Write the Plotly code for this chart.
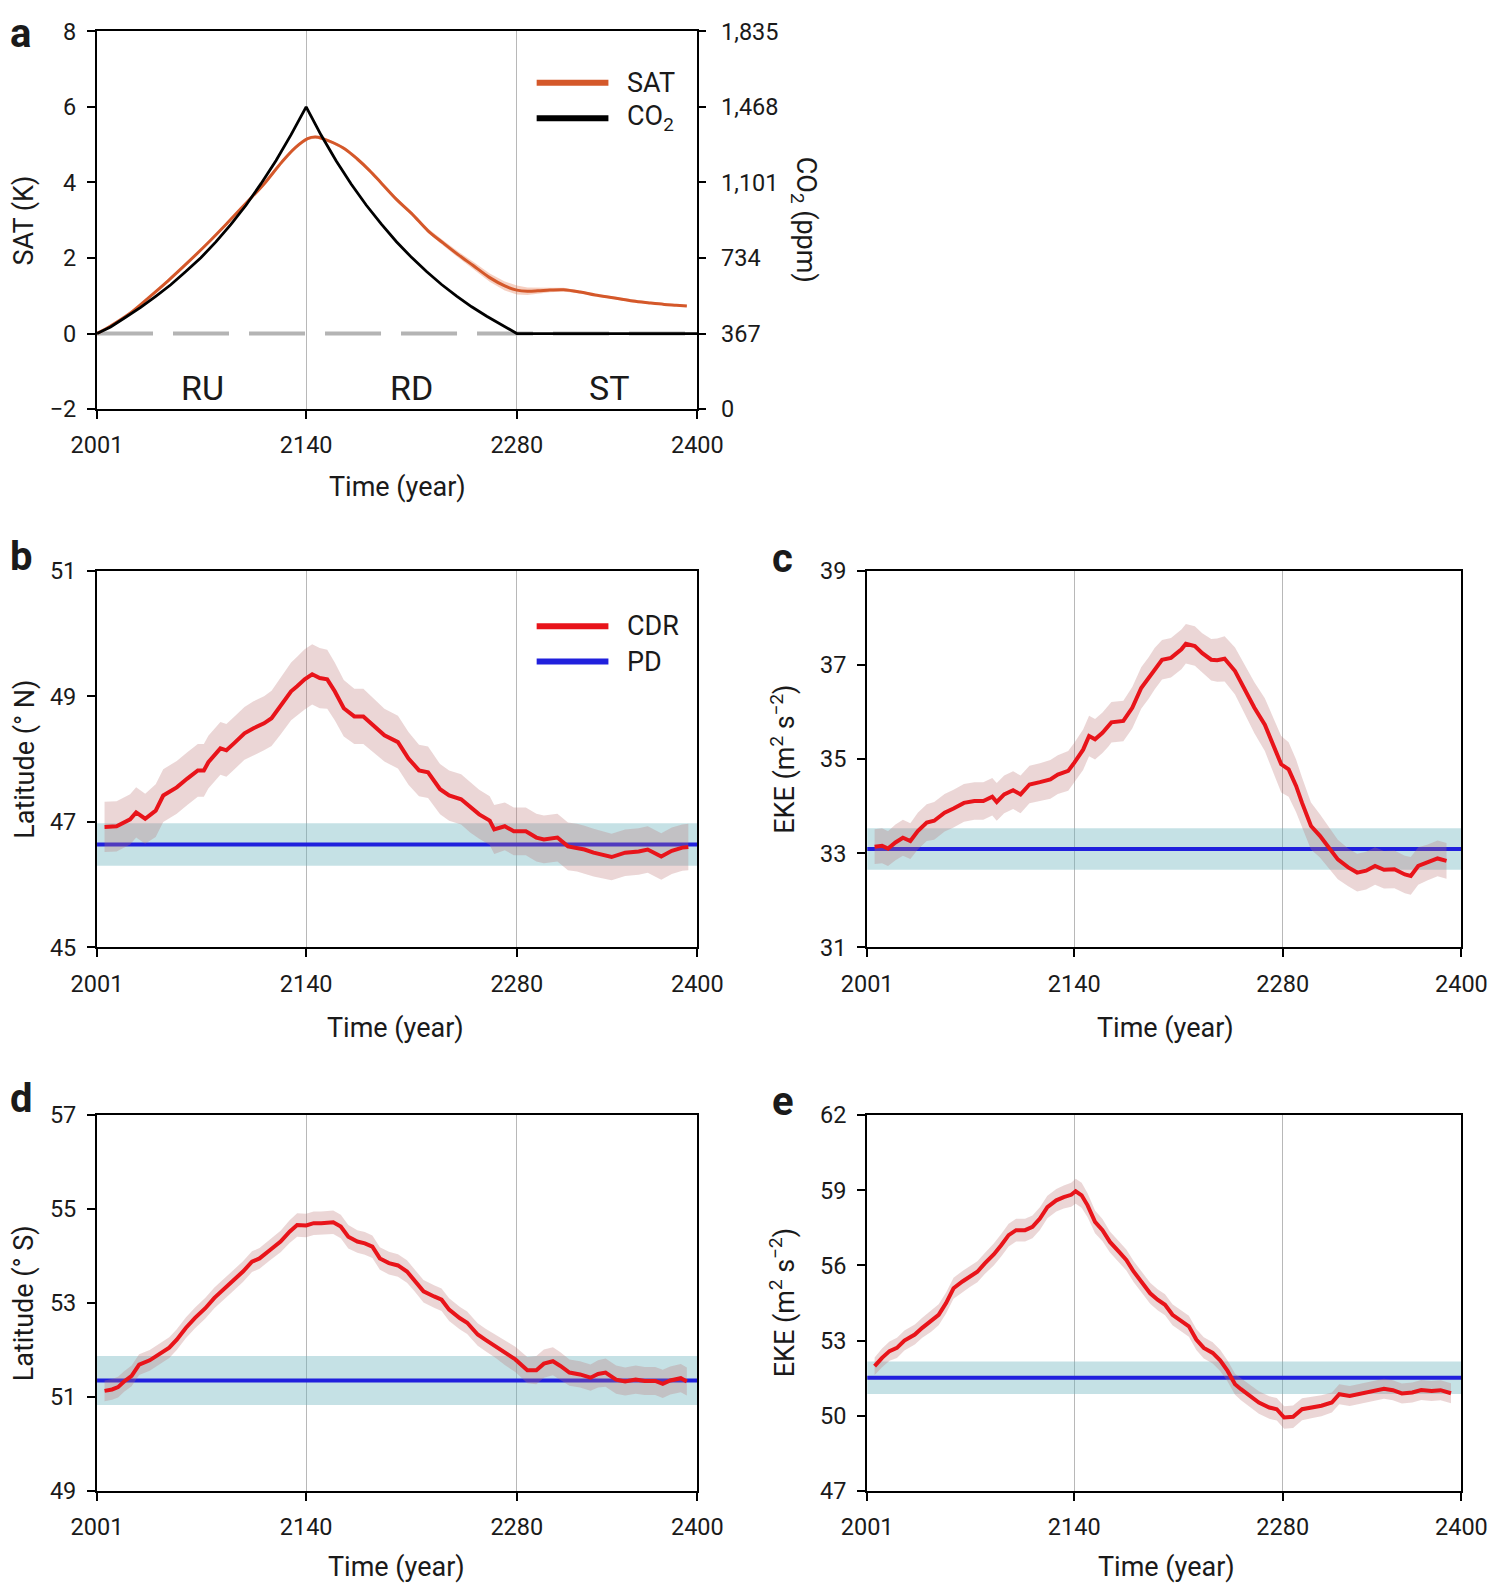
import numpy as np
import plotly.graph_objects as go

# ---- panel a: CO2 forcing and surface air temperature ----
co2_years = [2001, 2010, 2020, 2030, 2040, 2050, 2060, 2070, 2080, 2090, 2100, 2110, 2120, 2130, 2140,
             2150, 2160, 2170, 2180, 2190, 2200, 2210, 2220, 2230, 2240, 2250, 2260, 2270, 2280, 2400]
co2_ppm = [367, 399, 446, 494, 548, 604, 668, 735, 812, 897, 990, 1095, 1208, 1333, 1468,
           1330, 1205, 1092, 990, 898, 813, 737, 668, 605, 549, 497, 451, 407, 367, 367]

sat_years = [2001, 2010, 2022, 2035, 2048, 2061, 2074, 2087, 2100, 2112, 2124, 2133, 2141, 2146,
             2151, 2158, 2166, 2174, 2182, 2190, 2200, 2210, 2221, 2231, 2241, 2251, 2262, 2272,
             2280, 2287, 2294, 2302, 2311, 2322, 2332, 2345, 2357, 2368, 2378, 2386, 2393]
sat_k = [0.0, 0.20, 0.51, 0.94, 1.39, 1.87, 2.37, 2.90, 3.45, 3.96, 4.55, 4.93, 5.16, 5.20,
         5.16, 5.05, 4.88, 4.62, 4.32, 3.98, 3.55, 3.18, 2.72, 2.40, 2.09, 1.80, 1.48, 1.26,
         1.15, 1.12, 1.13, 1.15, 1.16, 1.10, 1.02, 0.94, 0.86, 0.81, 0.77, 0.75, 0.73]
sat_spread = [0.0, 0.02, 0.02, 0.02, 0.03, 0.03, 0.03, 0.03, 0.03, 0.03, 0.03, 0.04, 0.04, 0.04,
              0.04, 0.04, 0.04, 0.04, 0.04, 0.04, 0.05, 0.05, 0.06, 0.07, 0.08, 0.10, 0.11, 0.12,
              0.12, 0.10, 0.08, 0.06, 0.05, 0.04, 0.03, 0.03, 0.03, 0.03, 0.03, 0.03, 0.03]

ref_years = [2001, 2400]
sat_zero = [0, 0]
co2_ticks = [0, 367, 734, 1101, 1468, 1835]
co2_ticktext = ["0", "367", "734", "1,101", "1,468", "1,835"]
phase_labels = ["RU", "RD", "ST"]
phase_years = [2071, 2210, 2341]

year_ticks = [2001, 2140, 2280, 2400]

# ---- panel b: jet latitude, Northern Hemisphere ----
b_years = [2006, 2014, 2023, 2027, 2033, 2040, 2045, 2054, 2061, 2068, 2072, 2075, 2083, 2087, 2092,
           2099, 2105, 2112, 2117, 2123, 2130, 2134, 2139, 2144, 2149, 2154, 2159, 2165, 2172, 2178,
           2183, 2192, 2201, 2208, 2215, 2221, 2229, 2235, 2243, 2249, 2255, 2262, 2265, 2272, 2278,
           2286, 2293, 2298, 2307, 2314, 2320, 2325, 2331, 2343, 2352, 2361, 2367, 2376, 2383, 2390, 2394]
b_cdr = [46.92, 46.93, 47.04, 47.15, 47.05, 47.18, 47.42, 47.55, 47.69, 47.82, 47.82, 47.95, 48.17, 48.14, 48.25,
         48.41, 48.49, 48.57, 48.65, 48.84, 49.08, 49.16, 49.27, 49.35, 49.29, 49.27, 49.08, 48.81, 48.68, 48.68,
         48.57, 48.38, 48.27, 48.01, 47.82, 47.79, 47.52, 47.42, 47.36, 47.23, 47.12, 47.02, 46.88, 46.93, 46.85,
         46.85, 46.75, 46.72, 46.75, 46.61, 46.59, 46.56, 46.51, 46.44, 46.51, 46.53, 46.56, 46.45, 46.54, 46.59, 46.60]
b_spread = [0.40, 0.40, 0.40, 0.40, 0.40, 0.42, 0.42, 0.42, 0.42, 0.42, 0.42, 0.42, 0.42, 0.42, 0.42,
            0.42, 0.43, 0.43, 0.44, 0.45, 0.46, 0.47, 0.48, 0.48, 0.48, 0.47, 0.46, 0.45, 0.44, 0.44,
            0.43, 0.42, 0.42, 0.42, 0.41, 0.41, 0.40, 0.40, 0.40, 0.40, 0.39, 0.39, 0.39, 0.38, 0.38,
            0.38, 0.38, 0.38, 0.38, 0.38, 0.38, 0.38, 0.38, 0.37, 0.37, 0.37, 0.37, 0.37, 0.37, 0.37, 0.37]
b_pd, b_pd_spread = 46.64, 0.34

# ---- panel c: EKE, Northern Hemisphere ----
c_years = [2006, 2011, 2015, 2020, 2025, 2030, 2035, 2041, 2046, 2053, 2059, 2066, 2073, 2079, 2085,
           2088, 2093, 2099, 2104, 2110, 2117, 2124, 2129, 2136, 2140, 2146, 2150, 2154, 2159, 2163,
           2165, 2173, 2179, 2185, 2190, 2194, 2199, 2205, 2212, 2215, 2221, 2226, 2232, 2236, 2241,
           2248, 2254, 2261, 2268, 2273, 2279, 2284, 2289, 2293, 2299, 2305, 2311, 2317, 2324, 2330,
           2336, 2342, 2348, 2355, 2362, 2366, 2371, 2377, 2384, 2390]
c_cdr = [33.14, 33.16, 33.10, 33.23, 33.33, 33.26, 33.47, 33.65, 33.69, 33.86, 33.95, 34.07, 34.11, 34.11, 34.20,
         34.09, 34.25, 34.34, 34.25, 34.46, 34.51, 34.57, 34.67, 34.75, 34.92, 35.20, 35.49, 35.42, 35.56, 35.70,
         35.78, 35.81, 36.09, 36.51, 36.72, 36.92, 37.11, 37.15, 37.33, 37.45, 37.40, 37.25, 37.11, 37.10, 37.13,
         36.87, 36.51, 36.09, 35.73, 35.35, 34.89, 34.78, 34.43, 34.07, 33.58, 33.37, 33.12, 32.87, 32.70, 32.59,
         32.63, 32.73, 32.65, 32.66, 32.55, 32.52, 32.73, 32.80, 32.89, 32.84]
c_spread = [0.37, 0.37, 0.37, 0.38, 0.38, 0.38, 0.39, 0.39, 0.40, 0.40, 0.40, 0.40, 0.40, 0.40, 0.40,
            0.40, 0.40, 0.40, 0.40, 0.40, 0.40, 0.41, 0.41, 0.42, 0.42, 0.43, 0.43, 0.43, 0.43, 0.43,
            0.43, 0.43, 0.44, 0.44, 0.44, 0.44, 0.42, 0.42, 0.42, 0.42, 0.42, 0.42, 0.44, 0.46, 0.48,
            0.50, 0.52, 0.54, 0.56, 0.58, 0.60, 0.58, 0.56, 0.54, 0.50, 0.46, 0.44, 0.42, 0.40, 0.40,
            0.40, 0.40, 0.40, 0.40, 0.40, 0.40, 0.40, 0.38, 0.38, 0.38]
c_pd, c_pd_spread = 33.09, 0.44

# ---- panel d: jet latitude, Southern Hemisphere ----
d_years = [2006, 2011, 2015, 2019, 2024, 2029, 2036, 2042, 2049, 2054, 2060, 2066, 2073, 2079, 2084,
           2091, 2098, 2104, 2109, 2116, 2123, 2129, 2134, 2140, 2145, 2150, 2158, 2163, 2168, 2174,
           2179, 2184, 2189, 2195, 2201, 2207, 2212, 2218, 2225, 2230, 2235, 2242, 2247, 2254, 2259,
           2266, 2272, 2279, 2287, 2293, 2298, 2304, 2309, 2315, 2322, 2329, 2334, 2339, 2346, 2352,
           2359, 2365, 2372, 2377, 2382, 2389, 2393]
d_cdr = [51.13, 51.16, 51.21, 51.33, 51.45, 51.69, 51.78, 51.90, 52.05, 52.22, 52.47, 52.68, 52.89, 53.11, 53.25,
         53.46, 53.67, 53.88, 53.95, 54.13, 54.31, 54.52, 54.66, 54.65, 54.70, 54.70, 54.72, 54.63, 54.41, 54.31,
         54.27, 54.20, 53.95, 53.85, 53.80, 53.67, 53.49, 53.25, 53.14, 53.07, 52.86, 52.68, 52.58, 52.33, 52.22,
         52.08, 51.94, 51.80, 51.57, 51.57, 51.71, 51.76, 51.66, 51.52, 51.48, 51.41, 51.49, 51.52, 51.37, 51.33,
         51.37, 51.34, 51.34, 51.28, 51.35, 51.40, 51.33]
d_spread = [0.22, 0.22, 0.22, 0.22, 0.22, 0.22, 0.22, 0.22, 0.22, 0.22, 0.22, 0.22, 0.22, 0.22, 0.22,
            0.22, 0.22, 0.22, 0.22, 0.22, 0.23, 0.24, 0.25, 0.25, 0.25, 0.25, 0.25, 0.25, 0.25, 0.24,
            0.24, 0.24, 0.24, 0.24, 0.24, 0.24, 0.24, 0.24, 0.24, 0.24, 0.24, 0.24, 0.24, 0.24, 0.24,
            0.25, 0.26, 0.27, 0.28, 0.30, 0.30, 0.30, 0.29, 0.28, 0.28, 0.28, 0.29, 0.30, 0.30, 0.30,
            0.30, 0.30, 0.30, 0.30, 0.30, 0.30, 0.30]
d_pd, d_pd_spread = 51.35, 0.52

# ---- panel e: EKE, Southern Hemisphere ----
e_years = [2006, 2011, 2016, 2021, 2026, 2033, 2038, 2044, 2049, 2054, 2059, 2065, 2070, 2075, 2080,
           2086, 2091, 2096, 2101, 2107, 2112, 2117, 2122, 2128, 2133, 2138, 2141, 2145, 2149, 2154,
           2159, 2164, 2170, 2175, 2180, 2185, 2191, 2196, 2201, 2206, 2212, 2217, 2222, 2227, 2233,
           2238, 2243, 2248, 2252, 2258, 2264, 2271, 2276, 2281, 2287, 2293, 2300, 2306, 2313, 2318,
           2325, 2333, 2340, 2348, 2354, 2360, 2367, 2373, 2380, 2386, 2393]
e_cdr = [51.98, 52.31, 52.58, 52.71, 53.00, 53.24, 53.51, 53.77, 54.03, 54.50, 55.09, 55.36, 55.56, 55.75, 56.08,
         56.44, 56.81, 57.21, 57.41, 57.41, 57.54, 57.87, 58.33, 58.60, 58.73, 58.82, 58.96, 58.80, 58.40, 57.74,
         57.41, 56.94, 56.55, 56.22, 55.75, 55.36, 54.89, 54.63, 54.43, 54.03, 53.77, 53.57, 53.04, 52.71, 52.51,
         52.21, 51.79, 51.26, 51.06, 50.79, 50.53, 50.33, 50.26, 49.93, 49.96, 50.26, 50.33, 50.40, 50.53, 50.86,
         50.79, 50.89, 50.99, 51.08, 51.02, 50.89, 50.93, 51.03, 50.99, 51.02, 50.90]
e_spread = [0.35, 0.37, 0.38, 0.40, 0.40, 0.40, 0.40, 0.42, 0.42, 0.42, 0.42, 0.42, 0.42, 0.42, 0.42,
            0.44, 0.45, 0.45, 0.45, 0.45, 0.45, 0.45, 0.45, 0.45, 0.46, 0.48, 0.50, 0.50, 0.48, 0.45,
            0.44, 0.42, 0.42, 0.42, 0.42, 0.42, 0.42, 0.42, 0.42, 0.42, 0.42, 0.42, 0.42, 0.42, 0.42,
            0.42, 0.42, 0.42, 0.44, 0.45, 0.45, 0.45, 0.45, 0.45, 0.45, 0.44, 0.42, 0.42, 0.40, 0.40,
            0.40, 0.40, 0.40, 0.40, 0.40, 0.40, 0.40, 0.40, 0.40, 0.40, 0.40]
e_pd, e_pd_spread = 51.52, 0.65

W, H = 1500, 1584
# the page adds an 8 px body margin and the shot is scaled back to 1500 wide
SX, SY, OFF = 1500 / 1516, 1584 / 1600, 8
FONT = "Roboto"
INK = "#1a1a1a"
ORANGE = "#d4582a"
RED = "#e8141a"
BLUE = "#2020dd"
PINK_FILL = "rgba(190,120,120,0.30)"
TEAL_FILL = "rgba(110,180,190,0.40)"
ORANGE_FILL = "rgba(230,120,80,0.35)"
TICK_SIZE = 23.5
TITLE_SIZE = 27
# right column pulled in a little so its last tick label stays on the page
RC_LEFT, RC_RIGHT = 858, 1446
RC_SHIFT = -8


def px(x):
    return (x / SX - OFF) / W


def py(y):
    return 1 - (y / SY - OFF) / H


def band(years, mid, spread):
    years = np.asarray(years, dtype=float)
    mid = np.asarray(mid, dtype=float)
    spread = np.asarray(spread, dtype=float)
    xs = np.concatenate([years, years[::-1]])
    ys = np.concatenate([mid + spread, (mid - spread)[::-1]])
    return xs, ys


fig = go.Figure()

# panel a
xs, ys = band(sat_years, sat_k, sat_spread)
fig.add_trace(go.Scatter(x=xs, y=ys, mode="lines", fill="toself", fillcolor=ORANGE_FILL,
                         line=dict(width=0), hoverinfo="skip", xaxis="x", yaxis="y"))
fig.add_trace(go.Scatter(x=ref_years, y=sat_zero, mode="lines",
                         line=dict(color="#b4b4b4", width=4, dash="56px,20px"),
                         xaxis="x", yaxis="y"))
fig.add_trace(go.Scatter(x=co2_years, y=co2_ppm, mode="lines",
                         line=dict(color="black", width=2.8), xaxis="x", yaxis="y2"))
fig.add_trace(go.Scatter(x=sat_years, y=sat_k, mode="lines", line_shape="spline",
                         line=dict(color=ORANGE, width=3), xaxis="x", yaxis="y"))

panels = [
    ("x2", "y3", b_years, b_cdr, b_spread, b_pd, b_pd_spread),
    ("x3", "y4", c_years, c_cdr, c_spread, c_pd, c_pd_spread),
    ("x4", "y5", d_years, d_cdr, d_spread, d_pd, d_pd_spread),
    ("x5", "y6", e_years, e_cdr, e_spread, e_pd, e_pd_spread),
]
for xa, ya, yrs, cdr, spread, pd_val, pd_spread in panels:
    pd_line = [pd_val, pd_val]
    xs, ys = band(ref_years, pd_line, [pd_spread, pd_spread])
    fig.add_trace(go.Scatter(x=xs, y=ys, mode="lines", fill="toself", fillcolor=TEAL_FILL,
                             line=dict(width=0), hoverinfo="skip", xaxis=xa, yaxis=ya))
    fig.add_trace(go.Scatter(x=ref_years, y=pd_line, mode="lines",
                             line=dict(color=BLUE, width=4), xaxis=xa, yaxis=ya))
    xs, ys = band(yrs, cdr, spread)
    fig.add_trace(go.Scatter(x=xs, y=ys, mode="lines", fill="toself", fillcolor=PINK_FILL,
                             line=dict(width=0), hoverinfo="skip", xaxis=xa, yaxis=ya))
    fig.add_trace(go.Scatter(x=yrs, y=cdr, mode="lines",
                             line=dict(color=RED, width=4), xaxis=xa, yaxis=ya))

tick_font = dict(family=FONT, size=TICK_SIZE, color=INK)


def xaxis(domain, anchor):
    return dict(domain=domain, anchor=anchor, range=[2001, 2400], tickvals=year_ticks,
                showgrid=True, gridcolor="#b8b8b8", gridwidth=1, zeroline=False,
                showline=True, linecolor="black", linewidth=2, mirror=True,
                ticks="outside", ticklen=8, tickwidth=2, tickcolor="black",
                tickfont=tick_font, ticklabelstandoff=6, automargin=False)


def yaxis(domain, anchor, rng, tickvals, ticktext=None):
    ax = dict(domain=domain, anchor=anchor, range=rng, tickvals=tickvals,
              showgrid=False, zeroline=False,
              showline=True, linecolor="black", linewidth=2, mirror=True,
              ticks="outside", ticklen=8, tickwidth=2, tickcolor="black",
              tickfont=tick_font, ticklabelstandoff=6, automargin=False)
    if ticktext:
        ax["ticktext"] = ticktext
    return ax


left_dom = [px(96), px(690)]
right_dom = [px(RC_LEFT), px(RC_RIGHT)]
a_dom = [py(405), py(31)]
mid_dom = [py(938), py(565)]
low_dom = [py(1476), py(1104)]

fig.update_layout(
    xaxis=xaxis(left_dom, "y"),
    yaxis=yaxis(a_dom, "x", [-2, 8], [-2, 0, 2, 4, 6, 8],
                ["\u22122", "0", "2", "4", "6", "8"]),
    yaxis2=dict(domain=a_dom, anchor="x", overlaying="y", side="right", range=[0, 1835],
                tickvals=co2_ticks, ticktext=co2_ticktext, showgrid=False, zeroline=False,
                showline=False, ticks="outside", ticklen=8, tickwidth=2, tickcolor="black",
                tickfont=tick_font, ticklabelstandoff=10, automargin=False),
    xaxis2=xaxis(left_dom, "y3"),
    yaxis3=yaxis(mid_dom, "x2", [45, 51], [45, 47, 49, 51]),
    xaxis3=xaxis(right_dom, "y4"),
    yaxis4=yaxis(mid_dom, "x3", [31, 39], [31, 33, 35, 37, 39]),
    xaxis4=xaxis(left_dom, "y5"),
    yaxis5=yaxis(low_dom, "x4", [49, 57], [49, 51, 53, 55, 57]),
    xaxis5=xaxis(right_dom, "y6"),
    yaxis6=yaxis(low_dom, "x5", [47, 62], [47, 50, 53, 56, 59, 62]),
)

annotations = []


def text(x, y, s, size=TITLE_SIZE, angle=0, bold=False, xanchor="center", yanchor="middle"):
    annotations.append(dict(x=px(x), y=py(y), xref="paper", yref="paper", text=s,
                            showarrow=False, textangle=angle, xanchor=xanchor, yanchor=yanchor,
                            font=dict(family=FONT, size=size, color=INK,
                                      weight="bold" if bold else "normal")))


# panel letters
text(8, 8, "a", size=40, bold=True, xanchor="left", yanchor="top")
for letter, x, y in [("b", 8, 551), ("c", 762, 553), ("d", 8, 1088), ("e", 762, 1090)]:
    text(x, y, letter, size=40, bold=True, xanchor="left")

# axis titles
text(24, 218, "SAT (K)", angle=-90)
text(795, 218, "CO<sub>2</sub> (ppm)", angle=90)
text(24, 752, "Latitude (° N)", angle=-90)
text(782 + RC_SHIFT, 752, "EKE (m<sup>2</sup> s<sup>\u22122</sup>)", angle=-90)
text(24, 1290, "Latitude (° S)", angle=-90)
text(782 + RC_SHIFT, 1290, "EKE (m<sup>2</sup> s<sup>\u22122</sup>)", angle=-90)
for x, y in [(393, 482), (391, 1018), (1161 + RC_SHIFT, 1018), (392, 1551), (1162 + RC_SHIFT, 1551)]:
    text(x, y, "Time (year)")

# phase labels in panel a
for lab, yr in zip(phase_labels, phase_years):
    annotations.append(dict(x=yr, y=-1.45, xref="x", yref="y", text=lab, showarrow=False,
                            font=dict(family=FONT, size=34, color=INK)))

# legends drawn by hand (long, thick samples)
shapes = []
for y, color, lab in [(82, ORANGE, "SAT"), (117, "black", "CO<sub>2</sub>"),
                      (620, RED, "CDR"), (655, BLUE, "PD")]:
    shapes.append(dict(type="line", xref="paper", yref="paper", x0=px(531), x1=px(602),
                       y0=py(y), y1=py(y), line=dict(color=color, width=6)))
    text(618, y, lab, size=27, xanchor="left")

fig.update_layout(
    width=W, height=H,
    margin=dict(l=0, r=0, t=0, b=0, pad=0, autoexpand=False),
    paper_bgcolor="white", plot_bgcolor="white",
    showlegend=False,
    font=dict(family=FONT, color=INK),
    annotations=annotations,
    shapes=shapes,
)

fig.write_html("out.html")
